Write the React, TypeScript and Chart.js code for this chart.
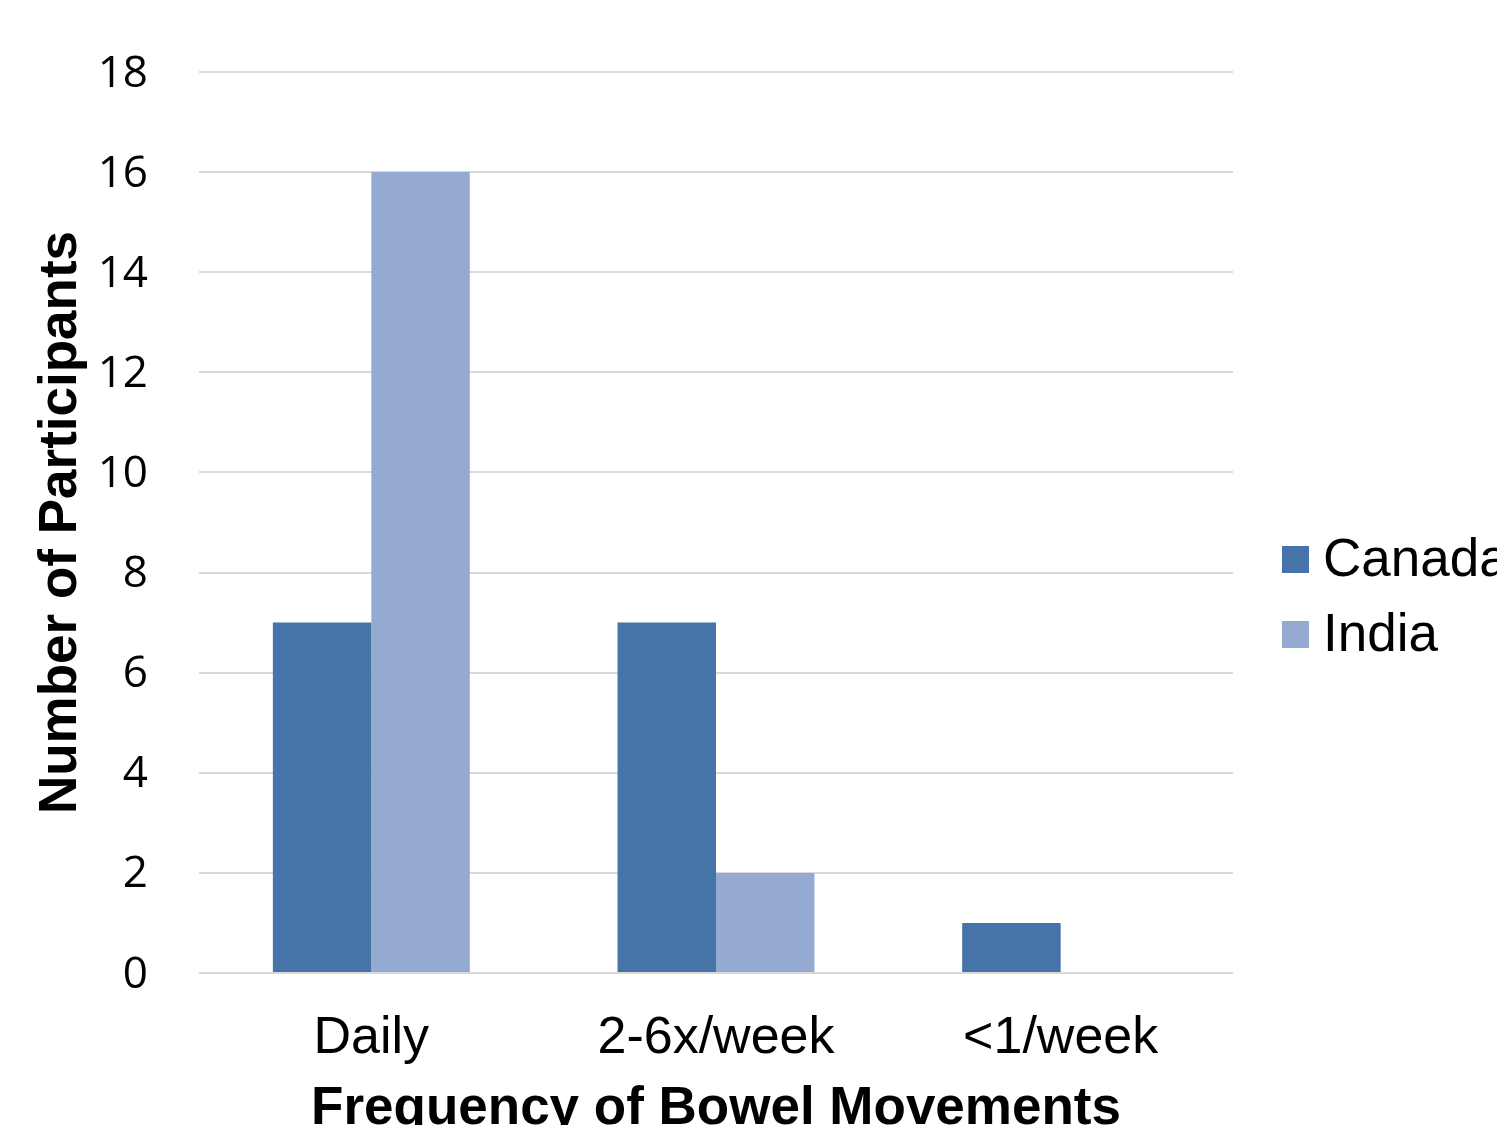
import React, { useEffect, useRef } from "react";
import { Chart, registerables } from "chart.js";

Chart.register(...registerables);

const categories = ["Daily", "2-6x/week", "<1/week"];
const canadaValues = [7, 7, 1];
const indiaValues = [16, 2, 0];
const seriesNames = ["Canada", "India"];
const seriesColors = ["#4674A8", "#95AAD1"];
const yTickMax = 18;
const yTickStep = 2;
const xTitle = "Frequency of Bowel Movements";
const yTitle = "Number of Participants";

const CANVAS_W = 1560;
const CANVAS_H = 1170;

const legendPlugin = {
  id: "sideLegend",
  afterDraw(chart: any) {
    const { ctx, chartArea } = chart;
    const x0 = chartArea.right + 49;
    const centers = [559.5, 634.5];
    ctx.save();
    chart.data.datasets.forEach((ds: any, i: number) => {
      const cy = centers[i];
      ctx.fillStyle = ds.backgroundColor;
      ctx.fillRect(x0, cy - 13.5, 27, 27);
      ctx.fillStyle = "#000000";
      ctx.font = "53px 'Liberation Sans', Arial, sans-serif";
      ctx.textBaseline = "alphabetic";
      ctx.textAlign = "left";
      ctx.fillText(ds.label, x0 + 41, cy + 16);
    });
    ctx.restore();
  },
};

export default function App() {
  const ref = useRef<HTMLCanvasElement>(null);

  useEffect(() => {
    if (!ref.current) return;
    const chart = new Chart(ref.current, {
      type: "bar",
      data: {
        labels: categories,
        datasets: [
          { label: seriesNames[0], data: canadaValues, backgroundColor: seriesColors[0] },
          { label: seriesNames[1], data: indiaValues, backgroundColor: seriesColors[1] },
        ],
      },
      options: {
        animation: false,
        responsive: false,
        maintainAspectRatio: false,
        devicePixelRatio: 1,
        layout: { padding: { left: 0, right: CANVAS_W - 1233, top: 72, bottom: 0 } },
        datasets: {
          bar: { categoryPercentage: 2 / 3.5, barPercentage: 1 },
        },
        plugins: {
          legend: { display: false },
          tooltip: { enabled: false },
        },
        scales: {
          x: {
            grid: { display: false, drawTicks: false },
            border: { display: false },
            ticks: {
              color: "#000000",
              padding: 34,
              font: { family: "'Liberation Sans', Arial, sans-serif", size: 52 },
              maxRotation: 0,
            },
            title: {
              display: true,
              text: xTitle,
              color: "#000000",
              font: { family: "'Liberation Sans', Arial, sans-serif", size: 53, weight: "bold" },
              padding: { top: 0, bottom: 29 },
            },
            afterFit(scale: any) {
              scale.height = CANVAS_H - 973;
            },
          },
          y: {
            min: 0,
            max: yTickMax,
            grid: {
              color: "#D9D9D9",
              lineWidth: 2,
              drawTicks: true,
              tickLength: 12,
              tickColor: "rgba(0,0,0,0)",
            },
            border: { display: false },
            ticks: {
              stepSize: yTickStep,
              color: "#000000",
              padding: 39,
              labelOffset: 2,
              font: { family: "'Open Sans', sans-serif", size: 44 },
            },
            title: {
              display: true,
              text: yTitle,
              color: "#000000",
              font: { family: "'Liberation Sans', Arial, sans-serif", size: 53, weight: "bold" },
              padding: { top: 30, bottom: 0 },
            },
            afterFit(scale: any) {
              scale.width = 199;
            },
          },
        },
      },
      plugins: [legendPlugin],
    } as any);
    return () => chart.destroy();
  }, []);

  return (
    <div
      style={{
        position: "fixed",
        left: 0,
        top: 0,
        width: 1497,
        height: 1125,
        overflow: "hidden",
        background: "#ffffff",
      }}
    >
      <canvas
        ref={ref}
        width={CANVAS_W}
        height={CANVAS_H}
        style={{ display: "block", width: CANVAS_W, height: CANVAS_H }}
      />
    </div>
  );
}
